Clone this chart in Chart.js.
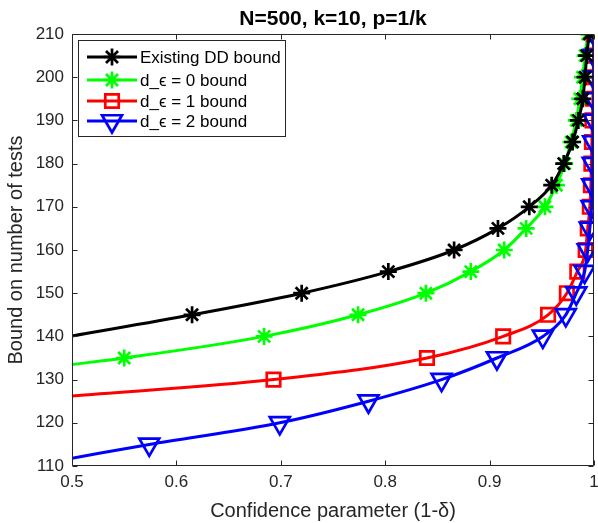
<!DOCTYPE html>
<html>
<head>
<meta charset="utf-8">
<script src="https://cdn.jsdelivr.net/npm/chart.js@4/dist/chart.umd.min.js"></script>
<style>
  html, body { margin: 0; padding: 0; background: #fff; }
</style>
</head>
<body>
<canvas id="chart" width="598" height="523"></canvas>
<script>
// tick values
const xTicks = [0.5, 0.6, 0.7, 0.8, 0.9, 1];
const yTicks = [110, 120, 130, 140, 150, 160, 170, 180, 190, 200, 210];

// Existing DD bound (first point = line start, no marker)
const ddX = [0.5, 0.615, 0.72, 0.803, 0.866, 0.908, 0.938, 0.9595, 0.971, 0.9795, 0.985, 0.9893, 0.9914, 0.993, 0.9955];
const ddY = [140.1, 145, 150, 155, 160, 165, 170, 175, 180, 185, 190, 195, 200, 205, 210];

// d_eps = 0
const d0X = [0.5, 0.550, 0.684, 0.774, 0.839, 0.882, 0.914, 0.935, 0.953, 0.964, 0.972, 0.978, 0.983, 0.9865, 0.989, 0.9915, 0.994];
const d0Y = [133.5, 135, 140, 145, 150, 155, 160, 165, 170, 175, 180, 185, 190, 195, 200, 205, 210];

// d_eps = 1
const d1X = [0.5, 0.693, 0.840, 0.913, 0.956, 0.974, 0.984, 0.992, 0.994, 0.996, 0.997, 0.9975, 0.998, 0.9985, 0.999, 0.9993, 0.9996, 0.9998];
const d1Y = [126.2, 130, 135, 140, 145, 150, 155, 160, 165, 170, 175, 180, 185, 190, 195, 200, 205, 210];

// d_eps = 2
const d2X = [0.5, 0.574, 0.699, 0.784, 0.854, 0.907, 0.951, 0.973, 0.983, 0.991, 0.994, 0.996, 0.9977, 0.9983, 0.9988, 0.9992, 0.9995, 0.9997, 0.9998, 0.9999, 1.0];
const d2Y = [111.8, 115, 120, 125, 130, 135, 140, 145, 150, 155, 160, 165, 170, 175, 180, 185, 190, 195, 200, 205, 210];

const seriesLabels = ['Existing DD bound', 'd_\u03f5 = 0 bound', 'd_\u03f5 = 1 bound', 'd_\u03f5 = 2 bound'];
const seriesColors = ['#000000', '#00ff00', '#ff0000', '#0000ff'];

const FONT = "'Liberation Sans', Arial, Helvetica, sans-serif";
const AXIS = '#262626';

function toPoints(xs, ys) {
    return xs.map((x, i) => ({ x: x, y: ys[i] }));
}

// first point of each curve is just where the line starts
function markerSizes(n, r) {
    return Array.from({ length: n }, (_, i) => i === 0 ? 0 : r);
}

const markers = [
    { style: 'star', r: 8.5, rot: 0 },
    { style: 'star', r: 8.5, rot: 0 },
    { style: 'rect', r: 9.5, rot: 0 },
    { style: 'triangle', r: 11.5, rot: 180 }
];

function makeDataset(i, xs, ys, order) {
    const m = markers[i];
    return {
        label: seriesLabels[i],
        data: toPoints(xs, ys),
        borderColor: seriesColors[i],
        backgroundColor: seriesColors[i],
        borderWidth: 3,
        pointStyle: m.style,
        pointRotation: m.rot,
        pointRadius: markerSizes(xs.length, m.r),
        pointBorderWidth: 2.7,
        pointBorderColor: seriesColors[i],
        pointBackgroundColor: 'rgba(0,0,0,0)',
        cubicInterpolationMode: 'monotone',
        order: order
    };
}

// little marker painter for the legend
function drawMarker(ctx, style, x, y, r, color) {
    ctx.save();
    ctx.strokeStyle = color;
    ctx.lineWidth = 2.7;
    ctx.beginPath();
    if (style === 'star') {
        const d = r * Math.SQRT1_2;
        ctx.moveTo(x - r, y); ctx.lineTo(x + r, y);
        ctx.moveTo(x, y - r); ctx.lineTo(x, y + r);
        ctx.moveTo(x - d, y - d); ctx.lineTo(x + d, y + d);
        ctx.moveTo(x - d, y + d); ctx.lineTo(x + d, y - d);
    } else if (style === 'rect') {
        const s = r * Math.SQRT1_2;
        ctx.rect(x - s, y - s, 2 * s, 2 * s);
    } else if (style === 'triangle') {
        const h = Math.sqrt(3) / 2 * r;
        ctx.moveTo(x, y + r);
        ctx.lineTo(x + h, y - r / 2);
        ctx.lineTo(x - h, y - r / 2);
        ctx.closePath();
    }
    ctx.stroke();
    ctx.restore();
}

const framePlugin = {
    id: 'matlabFrame',
    afterDatasetsDraw(chart) {
        const ctx = chart.ctx;
        const a = chart.chartArea;
        const xs = chart.scales.x, ys = chart.scales.y;
        const L = Math.round(a.left) + 0.5, R = Math.round(a.right) - 0.5;
        const T = Math.round(a.top) + 0.5, B = Math.round(a.bottom) - 0.5;
        const tick = 5;

        ctx.save();
        ctx.strokeStyle = AXIS;
        ctx.lineWidth = 1;
        ctx.beginPath();
        ctx.rect(L, T, R - L, B - T);
        xTicks.forEach(v => {
            const p = Math.round(xs.getPixelForValue(v)) + 0.5;
            ctx.moveTo(p, B); ctx.lineTo(p, B - tick);
            ctx.moveTo(p, T); ctx.lineTo(p, T + tick);
        });
        yTicks.forEach(v => {
            const p = Math.round(ys.getPixelForValue(v)) + 0.5;
            ctx.moveTo(L, p); ctx.lineTo(L + tick, p);
            ctx.moveTo(R, p); ctx.lineTo(R - tick, p);
        });
        ctx.stroke();

        // title over the axes
        ctx.fillStyle = '#000';
        ctx.font = 'bold 21px ' + FONT;
        ctx.textAlign = 'center';
        ctx.textBaseline = 'alphabetic';
        ctx.fillText('N=500, k=10, p=1/k', (a.left + a.right) / 2, 25);

        // legend box
        const box = { l: 78.5, t: 40.5, r: 285.5, b: 136.5 };
        ctx.fillStyle = '#fff';
        ctx.fillRect(box.l, box.t, box.r - box.l, box.b - box.t);
        ctx.strokeStyle = AXIS;
        ctx.lineWidth = 1;
        ctx.strokeRect(box.l, box.t, box.r - box.l, box.b - box.t);

        const rowY = [57, 80, 101, 121];
        ctx.font = '17px ' + FONT;
        ctx.textAlign = 'left';
        ctx.textBaseline = 'middle';
        seriesLabels.forEach((label, i) => {
            const y = rowY[i];
            ctx.strokeStyle = seriesColors[i];
            ctx.lineWidth = 3;
            ctx.beginPath();
            ctx.moveTo(87, y); ctx.lineTo(137, y);
            ctx.stroke();
            drawMarker(ctx, markers[i].style, 112, y, markers[i].r, seriesColors[i]);
            ctx.fillStyle = '#000';
            ctx.fillText(label, 140, y + 1);
        });
        ctx.restore();
    }
};

const ctx = document.getElementById('chart').getContext('2d');
new Chart(ctx, {
    type: 'line',
    data: {
        datasets: [
            makeDataset(0, ddX, ddY, 0),
            makeDataset(1, d0X, d0Y, 3),
            makeDataset(2, d1X, d1Y, 2),
            makeDataset(3, d2X, d2Y, 1)
        ]
    },
    options: {
        responsive: false,
        devicePixelRatio: 1,
        animation: false,
        layout: { autoPadding: false, padding: { top: 34, right: 4, left: 0, bottom: 0 } },
        plugins: {
            legend: { display: false },
            tooltip: { enabled: false },
            title: { display: false }
        },
        scales: {
            x: {
                type: 'linear',
                min: 0.5,
                max: 1,
                grid: { display: false, drawTicks: false, tickLength: 0 },
                border: { display: false },
                ticks: {
                    font: { family: FONT, size: 17 },
                    color: AXIS,
                    padding: 6,
                    maxRotation: 0,
                    callback: v => String(+v.toFixed(2))
                },
                afterBuildTicks: s => { s.ticks = xTicks.map(v => ({ value: v })); },
                afterFit: s => { s.height = 57; s.paddingLeft = 0; s.paddingRight = 0; },
                title: {
                    display: true,
                    text: 'Confidence parameter (1-\u03b4)',
                    font: { family: FONT, size: 20 },
                    color: AXIS,
                    padding: { top: 0, bottom: 0 }
                }
            },
            y: {
                type: 'linear',
                min: 110,
                max: 210,
                grid: { display: false, drawTicks: false, tickLength: 0 },
                border: { display: false },
                ticks: {
                    font: { family: FONT, size: 17 },
                    color: AXIS,
                    padding: 8
                },
                afterBuildTicks: s => { s.ticks = yTicks.map(v => ({ value: v })); },
                afterFit: s => { s.width = 72; s.paddingTop = 0; s.paddingBottom = 0; },
                title: {
                    display: true,
                    text: 'Bound on number of tests',
                    font: { family: FONT, size: 20 },
                    color: AXIS,
                    padding: { top: 4, bottom: 0 }
                }
            }
        }
    },
    plugins: [framePlugin]
});
</script>
</body>
</html>
